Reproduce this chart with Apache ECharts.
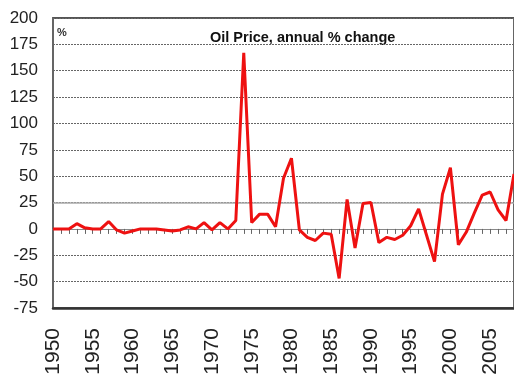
<!DOCTYPE html>
<html>
<head>
<meta charset="utf-8">
<script src="https://cdn.jsdelivr.net/npm/echarts@6/dist/echarts.min.js"></script>
<style>html,body{margin:0;padding:0;background:#fff}#c{width:514px;height:382px}</style>
</head>
<body>
<div id="c"></div>
<script>
var years = [1950,1951,1952,1953,1954,1955,1956,1957,1958,1959,1960,1961,1962,1963,1964,1965,1966,1967,1968,1969,1970,1971,1972,1973,1974,1975,1976,1977,1978,1979,1980,1981,1982,1983,1984,1985,1986,1987,1988,1989,1990,1991,1992,1993,1994,1995,1996,1997,1998,1999,2000,2001,2002,2003,2004,2005,2006,2007,2008];
var oilChange = [0,0,0,5,1,0,0,7,-1,-4,-2,0,0,0,-1,-2,-1,2,0,6,-1,6,0,8,167,6,14,14,2,48,67,-1,-8,-11,-4,-5,-47,28,-18,24,25,-13,-8,-10,-6,3,19,-6,-31,33,58,-15,-3,15,32,35,18,8,52];
var yTicks = [-75,-50,-25,0,25,50,75,100,125,150,175,200];
var titleText = 'Oil Price, annual % change';
var unitText = '%';

var points = years.map(function(y,i){return [y, oilChange[i]];});
var chart = echarts.init(document.getElementById('c'), null, {renderer:'canvas'});
chart.setOption({
  animation:false,
  backgroundColor:'#fff',
  grid:{left:53,right:-3,top:18,bottom:74,show:true,borderColor:'#555',borderWidth:1.8,backgroundColor:'transparent'},
  graphic:[
    {type:'text',left:210,top:30,style:{text:titleText,font:'bold 14.5px "Liberation Sans", Arial, sans-serif',fill:'#111'}},
    {type:'text',left:57,top:27,style:{text:unitText,font:'bold 11px "Liberation Sans", Arial, sans-serif',fill:'#333'}}
  ],
  xAxis:[
    {type:'value',min:years[0],max:years[years.length-1],interval:5,position:'bottom',
     axisLine:{onZero:false,show:true,lineStyle:{color:'#333',width:2.5}},
     axisTick:{show:false},splitLine:{show:false},
     axisLabel:{rotate:90,margin:20,fontSize:21,color:'#222',fontFamily:'"Liberation Sans", Arial, sans-serif',showMaxLabel:false,
       formatter:function(v){return String(v);}}},
    {type:'value',min:years[0],max:years[years.length-1],interval:1,position:'top',
     axisLine:{onZero:true,show:true,lineStyle:{color:'#888',width:1}},
     axisTick:{show:true,inside:true,length:5,lineStyle:{color:'#666',width:1}},
     axisLabel:{show:false},splitLine:{show:false}}
  ],
  yAxis:{type:'value',min:yTicks[0],max:yTicks[yTicks.length-1],interval:25,
    axisLine:{show:false},axisTick:{show:false},
    axisLabel:{fontSize:17,color:'#222',margin:15,fontFamily:'"Liberation Sans", Arial, sans-serif'},
    splitLine:{show:true,lineStyle:{color:'#666',type:[2,1],width:1.2}}},
  series:[{
    type:'line',data:points,xAxisIndex:0,showSymbol:false,symbol:'none',
    lineStyle:{color:'#ee1111',width:3},
    markLine:{silent:true,symbol:'none',label:{show:false},
      lineStyle:{color:'#aaa',type:'solid',width:1.5},data:[{yAxis:25}]},
    z:5
  }]
});
</script>
</body>
</html>
